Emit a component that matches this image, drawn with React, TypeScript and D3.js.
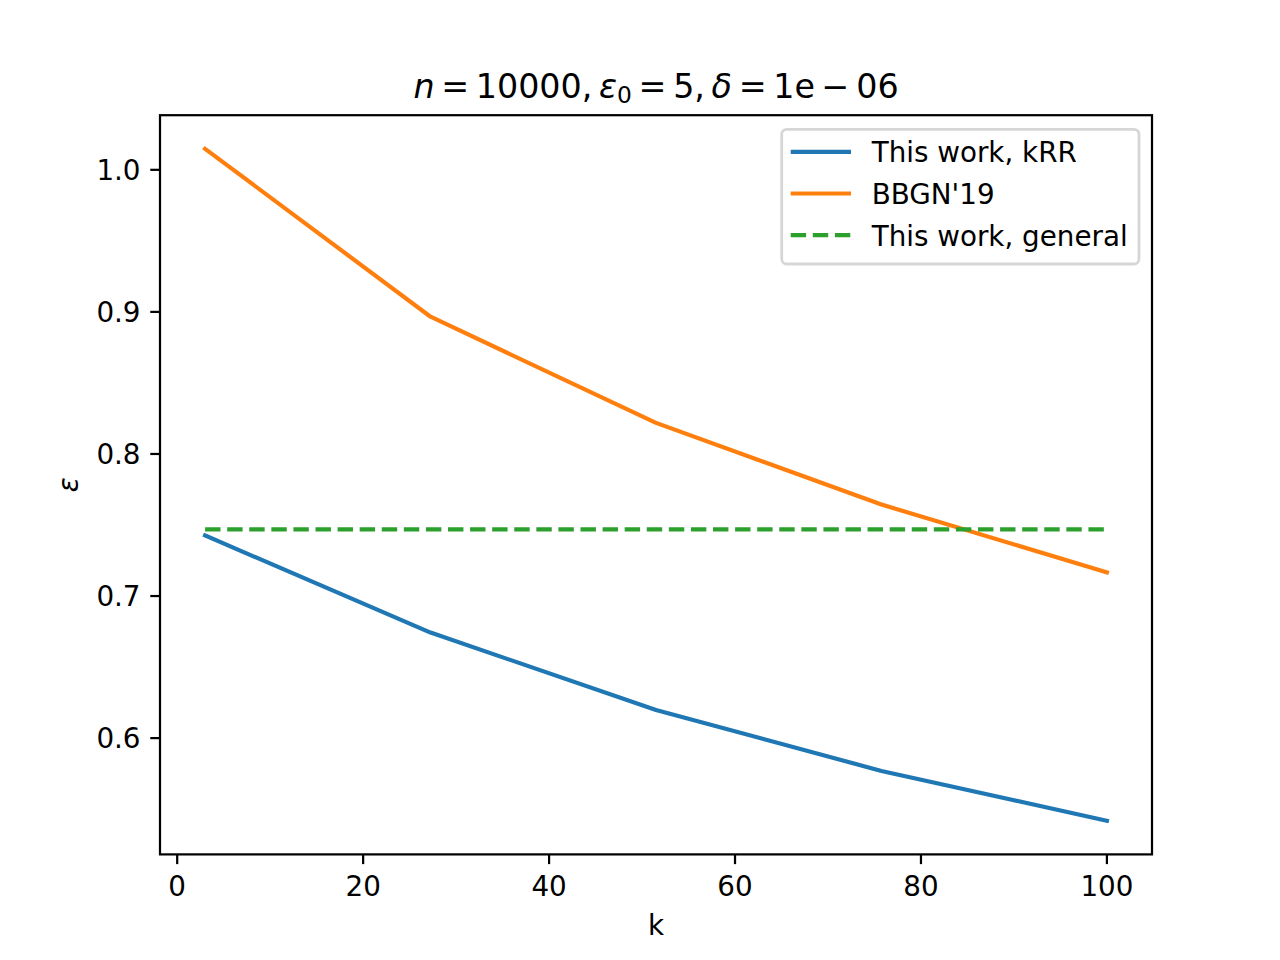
import React from "react";
import * as d3 from "d3";

const kValues = [3, 27.25, 51.5, 75.75, 100];
const kRR = [0.7426, 0.6743, 0.6198, 0.5769, 0.5418];
const bbgn = [1.0148, 0.8966, 0.8219, 0.7644, 0.7167];
const generalValue = 0.7469;
const generalK = [3, 100];
const xTicks = [0, 20, 40, 60, 80, 100];
const yTicks = [0.6, 0.7, 0.8, 0.9, 1.0];
const legendLabels = ["This work, kRR", "BBGN'19", "This work, general"];

const W = 1280;
const H = 960;
const L = 160, R = 1152, T = 115.2, B = 854.4;
const PT = 200 / 72;
const FONT = "DejaVu Sans";
const TS = "\u2009";

export default function App() {
  const allY = [...kRR, ...bbgn, generalValue];
  const yMin = d3.min(allY)!;
  const yMax = d3.max(allY)!;
  const yPad = (yMax - yMin) * 0.05;
  const xMin = d3.min(kValues)!;
  const xMax = d3.max(kValues)!;
  const xPad = (xMax - xMin) * 0.05;
  const x = d3.scaleLinear().domain([xMin - xPad, xMax + xPad]).range([L, R]);
  const y = d3.scaleLinear().domain([yMin - yPad, yMax + yPad]).range([B, T]);

  const line = d3
    .line<[number, number]>()
    .x((d) => x(d[0]))
    .y((d) => y(d[1]));

  const blue = "#1f77b4";
  const orange = "#ff7f0e";
  const green = "#2ca02c";
  const lw = 1.5 * PT;
  const tickLen = 3.5 * PT;
  const spineW = 0.8 * PT;
  const fs = 10 * PT;

  const kRRPts = kValues.map((k, i) => [k, kRR[i]] as [number, number]);
  const bbgnPts = kValues.map((k, i) => [k, bbgn[i]] as [number, number]);
  const genPts = generalK.map((k) => [k, generalValue] as [number, number]);

  const legendColors = [blue, orange, green];
  const legendDash = [undefined, undefined, `${3.7 * lw} ${1.6 * lw}`];
  const legX = 781.7, legY = 129.3, legW = 357.3, legH = 134.7;
  const rowY = [151.9, 193.5, 235.2];

  return (
    <svg
      width={W}
      height={H}
      viewBox={`0 0 ${W} ${H}`}
      style={{ position: "absolute", left: 0, top: 0, background: "#fff" }}
      fontFamily={FONT}
    >
      <rect x={0} y={0} width={W} height={H} fill="#fff" />
      <g fill="none" strokeLinejoin="round" strokeLinecap="square">
        <path d={line(kRRPts)!} stroke={blue} strokeWidth={lw} />
        <path d={line(bbgnPts)!} stroke={orange} strokeWidth={lw} />
        <path
          d={line(genPts)!}
          stroke={green}
          strokeWidth={lw}
          strokeLinecap="butt"
          strokeDasharray={`${3.7 * lw} ${1.6 * lw}`}
        />
      </g>
      {/* spines */}
      <rect x={L} y={T} width={R - L} height={B - T} fill="none" stroke="#000" strokeWidth={spineW} strokeLinejoin="miter" />
      {/* x ticks */}
      {xTicks.map((t) => (
        <g key={"x" + t}>
          <line x1={x(t)} x2={x(t)} y1={B} y2={B + tickLen} stroke="#000" strokeWidth={spineW} />
          <text x={x(t)} y={896} fontSize={fs} textAnchor="middle" fill="#000">
            {String(t)}
          </text>
        </g>
      ))}
      {/* y ticks */}
      {yTicks.map((t) => (
        <g key={"y" + t}>
          <line x1={L - tickLen} x2={L} y1={y(t)} y2={y(t)} stroke="#000" strokeWidth={spineW} />
          <text x={L - tickLen - 3.5 * PT} y={y(t) + 10} fontSize={fs} textAnchor="end" fill="#000">
            {t.toFixed(1)}
          </text>
        </g>
      ))}
      {/* axis labels */}
      <text x={(L + R) / 2} y={935} fontSize={fs} textAnchor="middle" fill="#000">
        k
      </text>
      <text
        transform={`translate(78,${(T + B) / 2}) rotate(-90)`}
        fontSize={fs}
        textAnchor="middle"
        fontStyle="italic"
        fill="#000"
      >
        ε
      </text>
      {/* title */}
      <text x={(L + R) / 2} y={98} fontSize={12 * PT} textAnchor="middle" fill="#000">
        <tspan fontStyle="italic">n</tspan>
        <tspan>{`${TS}=${TS}10000,${TS}`}</tspan>
        <tspan fontStyle="italic">ε</tspan>
        <tspan fontSize={12 * PT * 0.7} dy={5}>0</tspan>
        <tspan dy={-5}>{`${TS}=${TS}5,${TS}`}</tspan>
        <tspan fontStyle="italic">δ</tspan>
        <tspan>{`${TS}=${TS}1e${TS}−${TS}06`}</tspan>
      </text>
      {/* legend */}
      <rect
        x={legX}
        y={legY}
        width={legW}
        height={legH}
        rx={5}
        ry={5}
        fill="#fff"
        fillOpacity={0.8}
        stroke="#cccccc"
        strokeOpacity={0.8}
        strokeWidth={1 * PT}
      />
      {legendLabels.map((lab, i) => (
        <g key={lab}>
          <line
            x1={790.7}
            x2={851}
            y1={rowY[i]}
            y2={rowY[i]}
            stroke={legendColors[i]}
            strokeWidth={lw}
            strokeDasharray={legendDash[i]}
          />
          <text x={871.7} y={rowY[i] + 10.3} fontSize={fs} fill="#000">
            {lab}
          </text>
        </g>
      ))}
    </svg>
  );
}
